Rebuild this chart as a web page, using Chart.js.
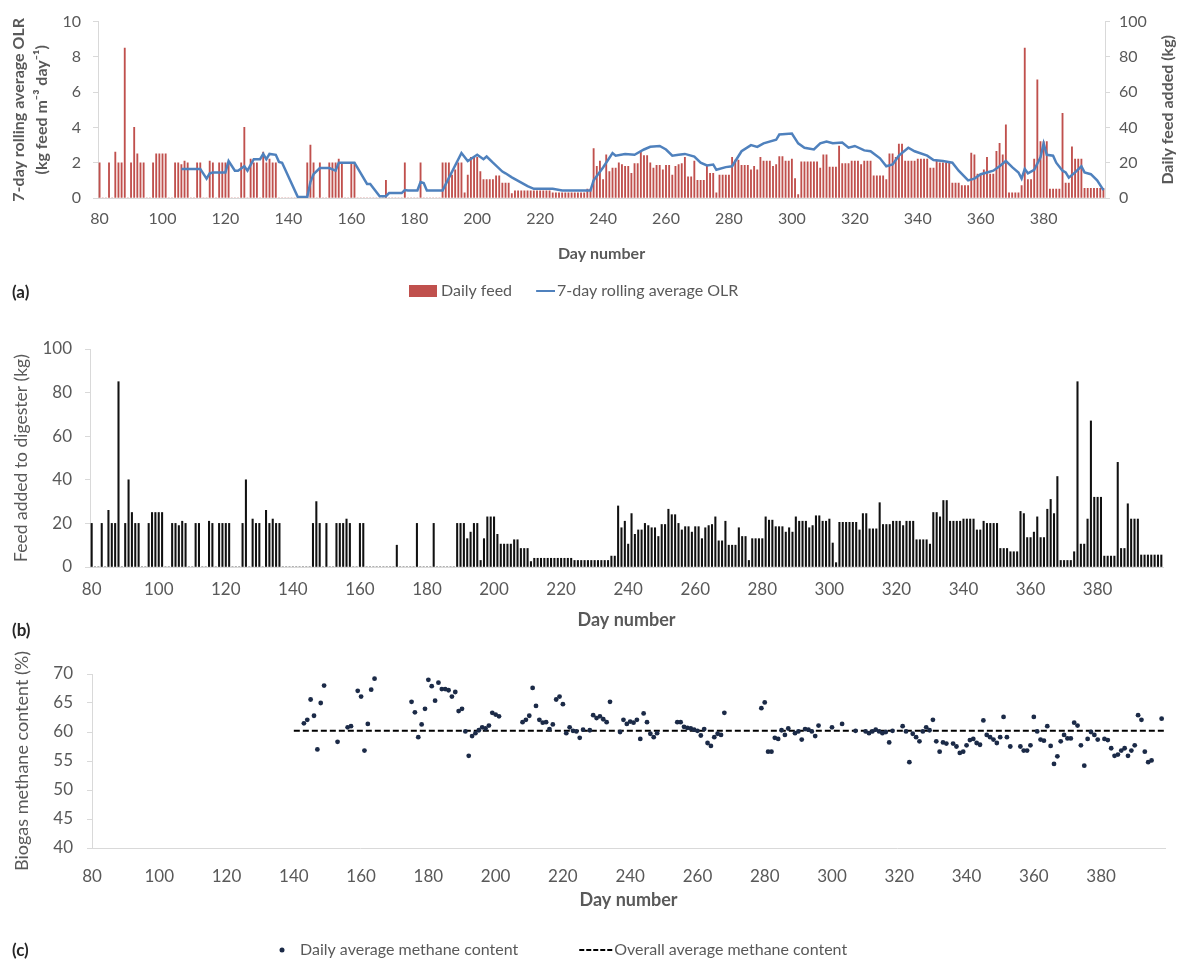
<!DOCTYPE html>
<html lang="en">
<head>
<meta charset="utf-8">
<title>Digester feeding, organic loading rate and biogas methane content</title>
<script src="https://cdn.jsdelivr.net/npm/chart.js@4.4.1/dist/chart.umd.min.js"></script>
<style>
  html, body { margin: 0; padding: 0; background: #fff; }
  body { position: relative; width: 1184px; height: 962px; overflow: hidden; font-family: Lato, "Open Sans", sans-serif; }
  canvas { position: absolute; left: 0; }
  .tag { position: absolute; left: 12px; font-weight: 700; font-size: 17px; line-height: 20px; color: #262626; }
</style>
</head>
<body>
<canvas id="chartA" width="1184" height="309" style="top:0"></canvas>
<canvas id="chartB" width="1184" height="340" style="top:305px"></canvas>
<canvas id="chartC" width="1184" height="323" style="top:645px"></canvas>
<div class="tag" style="top:282px">(a)</div>
<div class="tag" style="top:620px">(b)</div>
<div class="tag" style="top:940px">(c)</div>
<script>
// ---- data -------------------------------------------------------------
const firstDay = 80;
const lastDay = 399;
const tickDays = [80, 100, 120, 140, 160, 180, 200, 220, 240, 260, 280, 300, 320, 340, 360, 380];

// Feed added to the digester (kg), one entry per day from day 80 to day 399
const feedKg = [
  20, 0, 0, 20, 0, 26, 20, 20, 85, 0,                 // 80
  20, 40, 25, 20, 20, 0, 0, 20, 25, 25,               // 90
  25, 25, 0, 0, 20, 20, 19, 21, 20, 0,                // 100
  0, 20, 20, 0, 0, 21, 20, 0, 20, 20,                 // 110
  20, 20, 0, 0, 0, 20, 40, 0, 22, 20,                 // 120
  20, 0, 26, 20, 22, 20, 20, 0, 0, 0,                 // 130
  0, 0, 0, 0, 0, 0, 20, 30, 20, 0,                    // 140
  20, 0, 0, 20, 20, 20, 22, 20, 0, 0,                 // 150
  20, 20, 0, 0, 0, 0, 0, 0, 0, 0,                     // 160
  0, 10, 0, 0, 0, 0, 0, 20, 0, 0,                     // 170
  0, 0, 20, 0, 0, 0, 0, 0, 0, 20,                     // 180
  20, 20, 13, 16, 20, 20, 3, 13, 23, 23,              // 190
  23, 15, 10.5, 10.5, 10.5, 10.5, 12.5, 12.5, 8.5, 8.5, // 200
  8.5, 2.5, 4, 4, 4, 4, 4, 4, 4, 4,                   // 210
  4, 4, 4, 4, 3, 3, 3, 3, 3, 3,                       // 220
  3, 3, 3, 3, 3, 5, 5, 28, 18, 21,                    // 230
  10.5, 24.5, 15, 17, 17, 20, 19, 18, 18, 14,         // 240
  19.5, 19.5, 26.5, 24, 24, 20, 17, 18.5, 18.5, 16,   // 250
  18.5, 18.5, 13, 18, 19, 19.5, 23, 12, 12, 21,       // 260
  10, 10, 10, 18, 14, 14, 3, 13, 13, 13,              // 270
  13, 23, 21.5, 21.5, 18.5, 18.5, 18.5, 16, 18, 16,   // 280
  23, 21, 21, 21, 18, 19, 23.5, 23.5, 21, 21,         // 290
  22, 11, 2, 20.5, 20.5, 20.5, 20.5, 20.5, 20.5, 17,  // 300
  24.5, 24.5, 17.5, 17.5, 17.5, 29.5, 19.5, 19.5, 19.5, 21, // 310
  21, 21, 19, 21, 21, 21, 12.5, 12.5, 12.5, 12.5,     // 320
  10.5, 25, 25, 23, 30.5, 30.5, 21, 21, 21, 21,       // 330
  22, 22, 22, 22, 17, 17, 21, 20, 20, 20,             // 340
  20, 8.5, 8.5, 8.5, 7, 7, 7, 25.5, 24.5, 13.5,       // 350
  13.5, 16, 23, 13.5, 13.5, 26.5, 31, 24.5, 41.5, 3,  // 360
  3, 3, 3, 7, 85, 10.5, 10.5, 22, 67, 32,             // 370
  32, 32, 5, 5, 5, 5, 48, 8.5, 8.5, 29,               // 380
  22, 22, 22, 5.5, 5.5, 5.5, 5.5, 5.5, 5.5, 5.5       // 390
];

// 7-day rolling average organic loading rate (kg feed m-3 day-1)
const olrDays = [
  106, 112, 114, 115, 116, 120, 121, 123, 124, 126, 127, 129, 131, 132,
  133, 134, 136, 137, 138, 143, 146, 147, 148, 150, 153, 155, 156, 161,
  165, 166, 169, 171, 172, 176, 177, 178, 181, 182, 183, 184, 189,
  195, 197, 200, 202, 203, 205, 208, 209, 211, 216, 218, 224, 227, 236,
  237, 240, 243, 244, 247, 250, 253, 255, 258, 260, 262, 264, 266, 269,
  271, 273, 275, 276, 279, 281, 284, 287, 289, 291, 295, 296, 300, 302,
  304, 307, 309, 311, 313, 316, 318, 320, 323, 325, 328, 330, 332, 334,
  337, 339, 343, 345, 348, 351, 353, 356, 358, 360, 362, 364, 366, 368,
  370, 372, 373, 374, 375, 377, 379, 380, 381, 383, 384, 386, 387, 388,
  390, 392, 393, 395, 397, 399
];
const olrValues = [
  1.65, 1.65, 1.1, 1.4, 1.45, 1.45, 2.1, 1.55, 1.55, 1.8, 1.55, 2.2, 2.2, 2.5,
  2.2, 2.5, 2.45, 2.05, 2.0, 0.05, 0.05, 0.9, 1.35, 1.7, 1.7, 1.55, 2.0, 2.0,
  0.8, 0.8, 0.1, 0.1, 0.28, 0.28, 0.45, 0.43, 0.43, 0.9, 0.85, 0.43, 0.43,
  2.55, 2.1, 2.45, 2.2, 2.35, 2.0, 1.5, 1.4, 1.17, 0.67, 0.52, 0.52, 0.43, 0.43,
  1.0, 1.73, 2.55, 2.4, 2.5, 2.45, 2.75, 2.9, 2.95, 2.75, 2.4, 2.45, 2.5, 2.35,
  2.0, 1.85, 1.9, 1.6, 1.75, 1.8, 2.65, 3.0, 2.9, 3.1, 3.3, 3.6, 3.65, 3.1,
  2.85, 2.75, 3.1, 3.2, 3.1, 3.15, 2.85, 2.95, 2.7, 2.65, 2.25, 1.8, 1.9, 2.4,
  2.85, 2.65, 2.4, 2.15, 2.1, 2.0, 1.55, 1.0, 1.1, 1.35, 1.45, 1.55, 1.8, 2.1,
  1.75, 1.45, 1.1, 1.65, 1.4, 1.6, 2.3, 3.1, 2.45, 2.4, 2.0, 1.55, 1.45, 1.15,
  1.45, 1.8, 1.45, 1.35, 1.0, 0.45
];

// Daily average biogas methane content (%)
const methaneDays = [
  143, 144, 145, 146, 147, 148, 149, 153, 156, 157, 159, 160, 161, 162, 163, 164,
  175, 176, 177, 178, 179, 180, 181, 182, 183, 184, 185, 186, 187, 188, 189, 190,
  191, 192, 193, 194, 195, 196, 197, 198, 199, 200, 201,
  208, 209, 210, 211, 212, 213, 214, 215, 216, 217, 218, 219, 220,
  221, 222, 223, 224, 225, 226, 228, 229, 230, 231, 232, 233, 234,
  237, 238, 239, 240, 241, 242, 243, 244, 245, 246, 247, 248,
  254, 255, 256, 257, 258, 259, 260, 261, 262, 263, 264, 265, 266, 267, 268,
  279, 280, 281, 282, 283, 284, 285, 286, 287, 289, 290, 291, 292, 293, 294, 295, 296,
  300, 303, 307, 310, 311, 312, 313, 314, 315, 316, 317, 318,
  321, 322, 323, 324, 325, 326, 327, 328, 329, 330, 331, 332, 333, 334,
  336, 337, 338, 339, 340, 341, 342, 343, 344, 345, 346, 347, 348, 349, 350, 351, 352, 353,
  356, 357, 358, 359, 360, 361, 362, 363, 364, 365, 366, 367, 368, 369, 370, 371, 372, 373,
  374, 375, 376, 377, 378, 379, 381, 382, 383, 384, 385, 386, 387, 388, 389, 390, 391, 392, 393, 394, 395, 398
];
const methanePct = [
  61.5, 62.1, 65.6, 62.8, 57.0, 65.0, 68.0, 58.3, 60.8, 61.0, 67.1, 66.1, 56.8, 61.4, 67.3, 69.2,
  65.2, 63.4, 59.1, 61.3, 64.0, 69.0, 67.9, 65.4, 68.5, 67.4, 67.4, 67.2, 66.1, 66.9, 63.6, 64.0,
  60.1, 55.9, 59.3, 59.8, 60.3, 60.8, 60.6, 61.1, 63.3, 63.0, 62.7,
  61.7, 62.1, 62.8, 67.6, 64.5, 62.1, 61.6, 61.7, 60.5, 61.3, 65.6, 66.1, 64.8,
  59.8, 60.8, 60.2, 60.1, 59.0, 60.4, 60.3, 62.9, 62.4, 62.7, 62.2, 61.7, 65.2,
  60.0, 62.1, 61.4, 61.8, 61.6, 62.1, 58.8, 63.2, 61.7, 59.7, 59.1, 59.8,
  61.7, 61.7, 60.9, 60.7, 60.6, 60.4, 60.2, 59.4, 60.5, 58.1, 57.6, 59.1, 59.7, 59.5, 63.3,
  64.1, 65.1, 56.6, 56.6, 59.0, 58.8, 60.3, 59.5, 60.6, 59.8, 60.1, 58.7, 60.5, 60.4, 60.1, 59.3, 61.1,
  60.8, 61.4, 60.2, 60.1, 59.8, 60.1, 60.4, 60.1, 59.8, 60.0, 58.2, 60.2,
  61.0, 60.1, 54.8, 59.7, 59.1, 58.4, 60.1, 60.8, 60.3, 62.1, 58.4, 56.6, 58.2, 58.0,
  58.0, 57.5, 56.4, 56.6, 57.7, 58.6, 58.8, 58.1, 57.8, 62.0, 59.5, 59.1, 58.7, 58.1, 59.1, 62.6, 59.1, 57.5,
  57.5, 56.8, 56.8, 57.7, 62.6, 60.1, 58.7, 58.5, 61.0, 57.6, 54.5, 55.8, 58.4, 59.5, 58.9, 58.9, 61.6, 61.1,
  57.7, 54.2, 58.8, 60.0, 59.5, 58.7, 58.8, 58.6, 57.2, 55.9, 56.1, 56.8, 57.2, 55.9, 56.8, 57.7, 62.9, 62.1, 56.6, 54.8, 55.1, 62.3
];
const overallMethane = 60.2;
const overallSpan = [140, 399];

// ---- shared styling ---------------------------------------------------
Chart.defaults.font.family = 'Lato, "Open Sans", sans-serif';
Chart.defaults.color = '#595959';

const textGrey = '#595959';
const axisGrey = '#D9D9D9';
const feedRed = '#C0504D';
const olrBlue = '#4F81BD';
const methaneNavy = '#1B2A47';

const dayLabels = [];
for (let d = firstDay; d <= lastDay; d++) dayLabels.push(d);

const setWidth = w => scale => { scale.width = w; };
const setHeight = h => scale => { scale.height = h; };
function dayTick(value) {
  const d = this.getLabelForValue(value);
  return tickDays.includes(d) ? String(d) : '';
}
const byDataset = (a, b) => a.datasetIndex - b.datasetIndex;

// Small canvases used as legend symbols
function marker(w, h, draw) {
  const c = document.createElement('canvas');
  c.width = w; c.height = h;
  draw(c.getContext('2d'), w, h);
  return c;
}
function legendWithMarkers(markers) {
  return chart => Chart.defaults.plugins.legend.labels.generateLabels(chart)
    .map(item => Object.assign(item, { pointStyle: markers[item.datasetIndex] }));
}

// Moves the legend row to a fixed left edge
const legendAnchor = {
  id: 'legendAnchor',
  afterLayout(chart, args, opts) {
    const lg = chart.legend;
    if (!lg || opts.left == null) return;
    const w = lg.right - lg.left;
    lg.left = opts.left;
    lg.right = opts.left + w;
  }
};

// Axis title for the right-hand axis, reading bottom to top
const sideTitle = {
  id: 'sideTitle',
  afterDraw(chart, args, opts) {
    if (!opts.text) return;
    const s = chart.scales[opts.scale];
    const { ctx, chartArea } = chart;
    ctx.save();
    ctx.translate(s.right - opts.inset, (chartArea.top + chartArea.bottom) / 2);
    ctx.rotate(-Math.PI / 2);
    ctx.font = opts.font;
    ctx.fillStyle = opts.color;
    ctx.textAlign = 'center';
    ctx.textBaseline = 'middle';
    ctx.fillText(opts.text, 0, 0);
    ctx.restore();
  }
};

function yAxis(opts) {
  return Object.assign({
    grid: { drawOnChartArea: false, tickLength: 5, color: axisGrey },
    border: { color: axisGrey }
  }, opts);
}

// ---- (a) daily feed and 7-day rolling average OLR ----------------------
const markersA = [
  marker(28, 12, (g, w, h) => { g.fillStyle = feedRed; g.fillRect(0, 0, w, h); }),
  marker(32, 4, (g, w, h) => {
    g.strokeStyle = olrBlue; g.lineWidth = 2;
    g.beginPath(); g.moveTo(w - 19, h / 2); g.lineTo(w, h / 2); g.stroke();
  })
];

new Chart(document.getElementById('chartA'), {
  type: 'bar',
  data: {
    labels: dayLabels,
    datasets: [
      {
        type: 'bar', label: 'Daily feed', data: feedKg, yAxisID: 'yFeed',
        backgroundColor: feedRed, barThickness: 1.2, order: 2
      },
      {
        type: 'line', label: '7-day rolling average OLR',
        data: olrDays.map((d, i) => ({ x: d, y: olrValues[i] })),
        yAxisID: 'yOlr', borderColor: olrBlue, borderWidth: 2.5,
        pointRadius: 0, tension: 0, order: 1
      }
    ]
  },
  options: {
    responsive: false,
    animation: false,
    layout: { padding: { top: 18, left: 0, right: 0, bottom: 0 } },
    plugins: {
      tooltip: { enabled: false },
      legend: {
        position: 'bottom', align: 'start',
        labels: {
          usePointStyle: true, pointStyleWidth: 20, boxHeight: 12, padding: 17,
          color: textGrey, font: { size: 16 },
          generateLabels: legendWithMarkers(markersA), sort: byDataset
        }
      },
      legendAnchor: { left: 396 },
      sideTitle: {
        scale: 'yFeed', inset: 16, text: 'Daily feed added (kg)',
        font: 'bold 16px Lato, "Open Sans", sans-serif', color: textGrey
      }
    },
    scales: {
      x: {
        type: 'category', offset: true,
        grid: { display: false, drawTicks: false }, border: { color: axisGrey },
        ticks: { autoSkip: false, maxRotation: 0, padding: 11, font: { size: 16 }, color: textGrey, callback: dayTick },
        title: { display: true, text: 'Day number', font: { size: 16, weight: 'bold' }, color: textGrey, padding: { top: 0, bottom: 3 } },
        afterFit: setHeight(68)
      },
      yOlr: yAxis({
        position: 'left', min: 0, max: 10,
        ticks: { stepSize: 2, padding: 12, font: { size: 16 }, color: textGrey },
        title: {
          display: true, text: ['7-day rolling average OLR', '(kg feed m⁻³ day⁻¹)'],
          font: { size: 16, weight: 'bold', lineHeight: 1.4 }, color: textGrey, padding: { top: 8, bottom: 0 }
        },
        afterFit: setWidth(98)
      }),
      yFeed: yAxis({
        position: 'right', min: 0, max: 100,
        ticks: { stepSize: 20, padding: 9, font: { size: 16 }, color: textGrey },
        afterFit: setWidth(79)
      })
    }
  },
  plugins: [legendAnchor, sideTitle]
});

// ---- (b) feed added to the digester -----------------------------------
new Chart(document.getElementById('chartB'), {
  type: 'bar',
  data: {
    labels: dayLabels,
    datasets: [{ label: 'Feed added to digester', data: feedKg, backgroundColor: '#111111', barThickness: 1.4 }]
  },
  options: {
    responsive: false,
    animation: false,
    layout: { padding: { top: 44, left: 0, right: 21, bottom: 0 } },
    plugins: { legend: { display: false }, tooltip: { enabled: false } },
    scales: {
      x: {
        type: 'category', offset: true,
        grid: { display: false, drawTicks: false }, border: { color: axisGrey },
        ticks: { autoSkip: false, maxRotation: 0, padding: 12, font: { size: 17 }, color: textGrey, callback: dayTick },
        title: { display: true, text: 'Day number', font: { size: 18, weight: 'bold' }, color: textGrey, padding: { top: 0, bottom: 14 } },
        afterFit: setHeight(78)
      },
      y: yAxis({
        min: 0, max: 100,
        ticks: { stepSize: 20, padding: 13, font: { size: 17 }, color: textGrey },
        title: { display: true, text: 'Feed added to digester (kg)', font: { size: 17.5 }, color: textGrey, padding: { top: 11, bottom: 0 } },
        afterFit: setWidth(90)
      })
    }
  }
});

// ---- (c) biogas methane content ---------------------------------------
const markersC = [
  marker(66, 6, g => { g.fillStyle = methaneNavy; g.beginPath(); g.arc(63, 3, 2.5, 0, Math.PI * 2); g.fill(); }),
  marker(94, 4, g => {
    g.strokeStyle = '#000'; g.lineWidth = 2; g.setLineDash([5, 2]);
    g.beginPath(); g.moveTo(60, 2); g.lineTo(94, 2); g.stroke();
  })
];

new Chart(document.getElementById('chartC'), {
  type: 'scatter',
  data: {
    datasets: [
      {
        label: 'Daily average methane content',
        data: methaneDays.map((d, i) => ({ x: d, y: methanePct[i] })),
        pointRadius: 2.4, backgroundColor: methaneNavy, borderWidth: 0
      },
      {
        type: 'line', label: 'Overall average methane content',
        data: overallSpan.map(d => ({ x: d, y: overallMethane })),
        borderColor: '#000', borderWidth: 2, borderDash: [6, 3], pointRadius: 0, tension: 0
      }
    ]
  },
  options: {
    responsive: false,
    animation: false,
    layout: { padding: { top: 29, left: 0, right: 19, bottom: 0 } },
    plugins: {
      tooltip: { enabled: false },
      legend: {
        position: 'bottom', align: 'start',
        labels: {
          usePointStyle: true, pointStyleWidth: 80, boxHeight: 6, padding: 8,
          color: textGrey, font: { size: 16 },
          generateLabels: legendWithMarkers(markersC), sort: byDataset
        }
      },
      legendAnchor: { left: 204 }
    },
    scales: {
      x: {
        type: 'linear', min: firstDay, max: lastDay,
        afterBuildTicks: s => { s.ticks = tickDays.map(v => ({ value: v })); },
        grid: { display: false, drawTicks: false }, border: { color: axisGrey },
        ticks: { padding: 18, font: { size: 17 }, color: textGrey },
        title: { display: true, text: 'Day number', font: { size: 18, weight: 'bold' }, color: textGrey, padding: { top: 0, bottom: 23 } },
        afterFit: setHeight(86)
      },
      y: yAxis({
        min: 40, max: 70,
        ticks: { stepSize: 5, padding: 14, font: { size: 17 }, color: textGrey },
        title: { display: true, text: 'Biogas methane content (%)', font: { size: 18 }, color: textGrey, padding: { top: 11, bottom: 0 } },
        afterFit: setWidth(92)
      })
    }
  },
  plugins: [legendAnchor]
});
</script>
</body>
</html>
